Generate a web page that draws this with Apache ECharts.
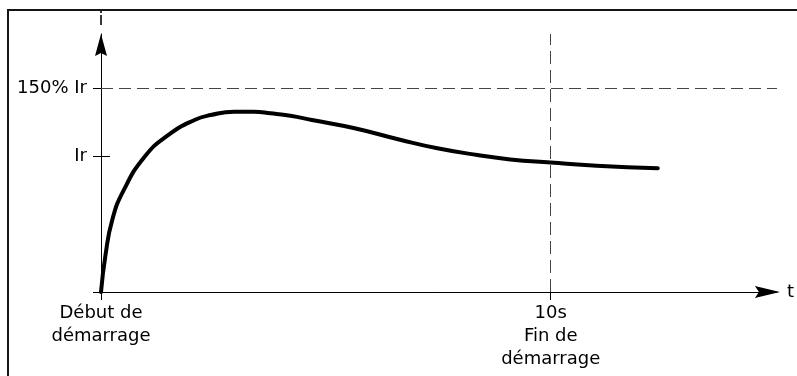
<!DOCTYPE html>
<html>
<head>
<meta charset="utf-8">
<script src="https://cdn.jsdelivr.net/npm/echarts@6/dist/echarts.min.js"></script>
<style>
html,body{margin:0;padding:0;background:#fff;}
#c{width:797px;height:376px;}
</style>
</head>
<body>
<div id="c"></div>
<script>
// ---- data ----
var tValues = [0, 0.10, 0.25, 0.50, 0.97, 1.50, 2.08, 2.44, 2.96, 3.40, 3.77, 4.21, 4.69, 5.64, 6.67, 7.48, 8.37, 9.10, 10.0, 11.02, 12.38];
var iValues = [0, 0.272, 0.530, 0.745, 0.995, 1.155, 1.265, 1.301, 1.326, 1.325, 1.314, 1.296, 1.265, 1.204, 1.118, 1.057, 1.007, 0.975, 0.952, 0.929, 0.91];
var xTickValues = [0, 10];
var xTickLabels = ['Début de\ndémarrage', '10s\nFin de\ndémarrage'];
var yTickValues = [0, 1, 1.5];
var yTickLabels = ['', 'Ir', '150% Ir'];
var xMax = 15.03;
var yMax = 1.897;
var startEndValue = 10;   // fin de démarrage
var limitValue = 1.5;     // 150% Ir
var irValue = 1;
var irTickEnd = 0.2;

var seriesData = tValues.map(function (t, k) { return [t, iValues[k]]; });
var font = 'DejaVu Sans';

var chart = echarts.init(document.getElementById('c'), null, {renderer: 'canvas'});
chart.setOption({
  animation: false,
  backgroundColor: '#fff',
  graphic: [{
    type: 'rect', silent: true, z: -1,
    shape: {x: 8, y: 10, width: 820, height: 420},
    style: {fill: 'none', stroke: '#151515', lineWidth: 2}
  }],
  grid: {left: 101, top: 34, right: 15, bottom: 84, containLabel: false},
  xAxis: {
    type: 'value', min: 0, max: xMax,
    name: 't', nameLocation: 'end', nameGap: 10,
    nameTextStyle: {fontFamily: font, fontSize: 18, color: '#000', align: 'left', verticalAlign: 'middle'},
    axisLine: {show: true, onZero: true, lineStyle: {color: '#000', width: 1},
      symbol: ['none', 'path://M6,0 L12,25 L6,21 L0,25 Z'], symbolSize: [13, 25], symbolOffset: [0, -9.5]},
    axisTick: {show: true, length: 8, customValues: xTickValues, lineStyle: {color: '#000', width: 1}},
    axisLabel: {show: true, customValues: xTickValues, margin: 10, fontFamily: font, fontSize: 18,
      color: '#000', lineHeight: 23,
      formatter: function (v) { var k = xTickValues.indexOf(v); return k >= 0 ? xTickLabels[k] : ''; }},
    splitLine: {show: false}
  },
  yAxis: {
    type: 'value', min: 0, max: yMax,
    name: 'i', nameLocation: 'end', nameGap: 5,
    nameTextStyle: {fontFamily: font, fontSize: 18, color: '#000', align: 'center'},
    axisLine: {show: true, onZero: true, lineStyle: {color: '#000', width: 1},
      symbol: ['none', 'path://M6,0 L12,22 L6,19 L0,22 Z'], symbolSize: [12, 22], symbolOffset: [0, -11]},
    axisTick: {show: true, length: 8, customValues: yTickValues, lineStyle: {color: '#000', width: 1}},
    axisLabel: {show: true, customValues: yTickValues, margin: 14, fontFamily: font, fontSize: 18, color: '#000',
      formatter: function (v) { var k = yTickValues.indexOf(v); return k >= 0 ? yTickLabels[k] : ''; }},
    splitLine: {show: false}
  },
  series: [{
    type: 'line',
    data: seriesData,
    smooth: 0.5,
    symbol: 'none',
    clip: false,
    lineStyle: {color: '#000', width: 4, cap: 'round', join: 'round'},
    z: 3,
    markLine: {
      silent: true, symbol: 'none', animation: false,
      label: {show: false},
      data: [
        {xAxis: startEndValue, lineStyle: {color: '#444', width: 1, type: [13, 6]}},
        {yAxis: limitValue, lineStyle: {color: '#444', width: 1, type: [12, 6]}},
        [{coord: [0, irValue], lineStyle: {color: '#000', width: 1, type: 'solid'}}, {coord: [irTickEnd, irValue]}]
      ]
    }
  }]
});
</script>
</body>
</html>
